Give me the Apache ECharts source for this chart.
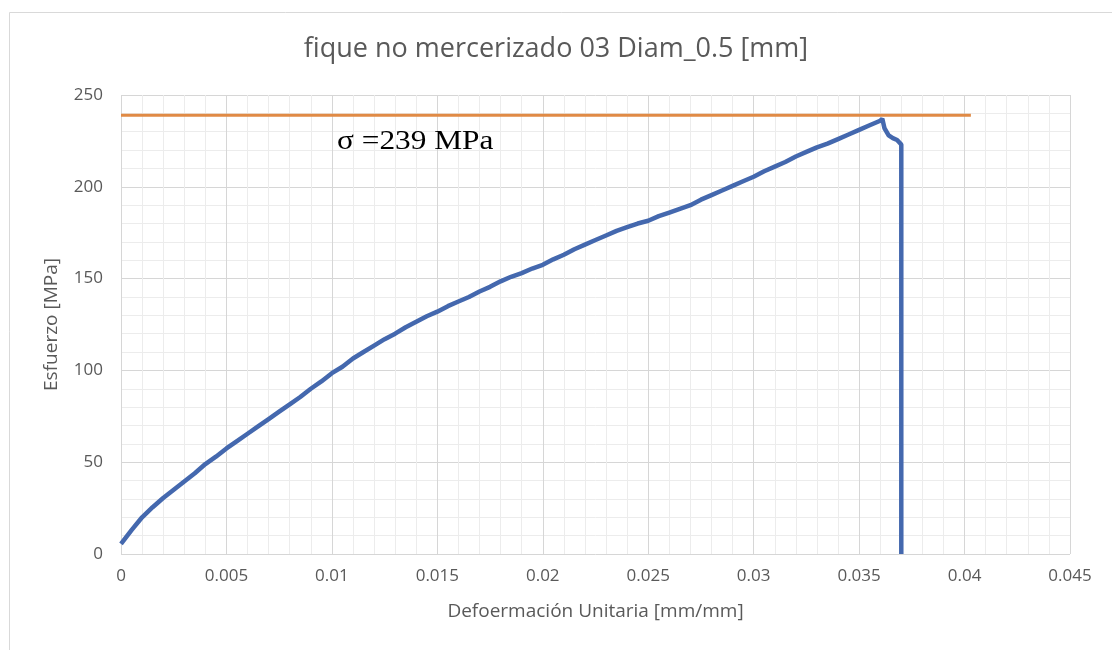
<!DOCTYPE html>
<html>
<head>
<meta charset="utf-8">
<script src="https://cdn.jsdelivr.net/npm/echarts@6/dist/echarts.min.js"></script>
<style>
html,body{margin:0;padding:0;background:#fff;}
#chart{width:1112px;height:650px;}
</style>
</head>
<body>
<div id="chart"></div>
<script>
const strain = [0,0.0005,0.001,0.0015,0.002,0.0025,0.003,0.0035,0.004,0.0045,0.005,0.0055,0.006,0.0065,0.007,0.0075,0.008,0.0085,0.009,0.0095,0.010,0.0105,0.011,0.0115,0.012,0.0125,0.013,0.0135,0.014,0.0145,0.015,0.0155,0.016,0.0165,0.017,0.0175,0.018,0.0185,0.019,0.0195,0.020,0.0205,0.021,0.0215,0.022,0.0225,0.023,0.0235,0.024,0.0245,0.025,0.0255,0.026,0.0265,0.027,0.0275,0.028,0.0285,0.029,0.0295,0.030,0.0305,0.031,0.0315,0.032,0.0325,0.033,0.0335,0.034,0.0345,0.035,0.0355,0.036,0.0361,0.0362,0.0364,0.0366,0.0368,0.0370,0.0370];
const stress = [5.5,13,20,25.5,30.5,35,39.5,44,49,53,57.5,61.5,65.5,69.5,73.5,77.5,81.5,85.5,90,94,98.5,102,106.5,110,113.5,117,120,123.5,126.5,129.5,132,135,137.5,140,143,145.5,148.5,151,153,155.5,157.5,160.5,163,166,168.5,171,173.5,176,178,180,181.5,184,186,188,190,193,195.5,198,200.5,203,205.5,208.5,211,213.5,216.5,219,221.5,223.5,226,228.5,231,233.5,236,237,232,228,226.5,225.5,223,0];
const limitX = [0, 0.0403];
const limitY = [239, 239];
const titleText = 'fique no mercerizado 03 Diam_0.5 [mm]';
const xName = 'Defoermación Unitaria [mm/mm]';
const yName = 'Esfuerzo [MPa]';
const noteText = 'σ =239 MPa';

const curve = strain.map((x, i) => [x, stress[i]]);
const limit = limitX.map((x, i) => [x, limitY[i]]);
const font = '"Open Sans", "Noto Sans", sans-serif';

const chart = echarts.init(document.getElementById('chart'), null, {renderer: 'canvas'});
chart.setOption({
  backgroundColor: '#fff',
  animation: false,
  title: {
    text: titleText, left: 'center', top: 31,
    textStyle: {fontFamily: font, fontSize: 27, fontWeight: 'normal', color: '#595959'}
  },
  grid: {left: 121, right: 42, top: 95, bottom: 96},
  graphic: [
    {type: 'rect', left: 7, top: 10, shape: {width: 1200, height: 700},
     style: {fill: 'none', stroke: '#d9d9d9', lineWidth: 1}, silent: true, z: -1},
    {type: 'text', x: 337, y: 128, scaleX: 1.16, z: 10,
     style: {text: noteText, font: '27px "Liberation Serif", "DejaVu Serif", serif', fill: '#000'}}
  ],
  xAxis: {
    type: 'value', min: 0, max: 0.045, interval: 0.005,
    name: xName, nameLocation: 'middle', nameGap: 48,
    nameTextStyle: {fontFamily: font, fontSize: 19, color: '#595959'},
    axisLine: {show: false}, axisTick: {show: false},
    axisLabel: {fontFamily: font, fontSize: 17, color: '#595959', margin: 14,
      formatter: v => String(+v.toFixed(3))},
    splitLine: {show: true, lineStyle: {color: '#d6d6d6', width: 1}},
    minorTick: {show: false, splitNumber: 5},
    minorSplitLine: {show: true, lineStyle: {color: '#ececec', width: 1}}
  },
  yAxis: {
    type: 'value', min: 0, max: 250, interval: 50,
    name: yName, nameLocation: 'middle', nameGap: 60,
    nameTextStyle: {fontFamily: font, fontSize: 19, color: '#595959'},
    axisLine: {show: false}, axisTick: {show: false},
    axisLabel: {fontFamily: font, fontSize: 17, color: '#595959', margin: 18},
    splitLine: {show: true, lineStyle: {color: '#d6d6d6', width: 1}},
    minorTick: {show: false, splitNumber: 5},
    minorSplitLine: {show: true, lineStyle: {color: '#ececec', width: 1}}
  },
  series: [
    {type: 'line', data: limit, showSymbol: false, symbol: 'none',
     lineStyle: {color: '#E08A45', width: 3}, z: 2},
    {type: 'line', data: curve, showSymbol: false, symbol: 'none',
     lineStyle: {color: '#4468AE', width: 4.5}, z: 3}
  ]
});
</script>
</body>
</html>
